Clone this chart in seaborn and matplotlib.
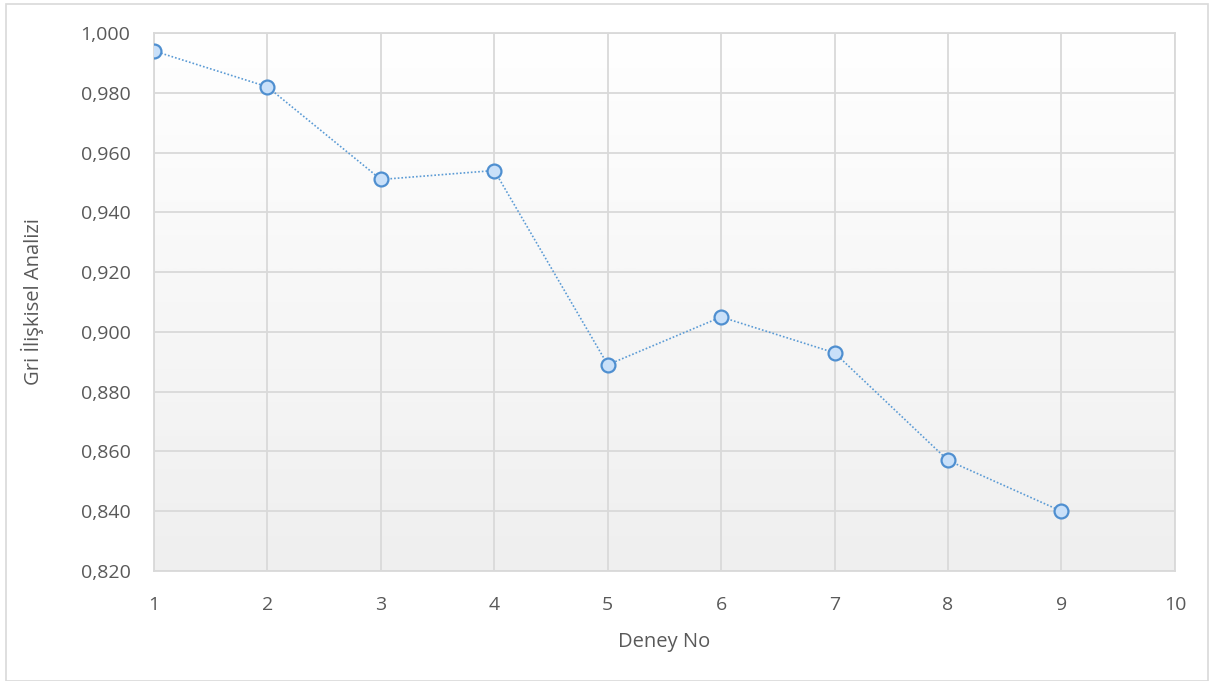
import numpy as np
import pandas as pd
import matplotlib
matplotlib.use("Agg")
import matplotlib.pyplot as plt
import seaborn as sns

# Data
deney_no = [1, 2, 3, 4, 5, 6, 7, 8, 9]
gri_iliskisel = [0.994, 0.982, 0.951, 0.954, 0.889, 0.905, 0.893, 0.857, 0.840]
x_ticks = [1, 2, 3, 4, 5, 6, 7, 8, 9, 10]
y_ticks = [0.820, 0.840, 0.860, 0.880, 0.900, 0.920, 0.940, 0.960, 0.980, 1.000]

sns.set_theme(style="white")
plt.rcParams["font.family"] = ["Open Sans", "DejaVu Sans"]

df = pd.DataFrame({"Deney No": deney_no, "Gri İlişkisel Analizi": gri_iliskisel})

fig = plt.figure(figsize=(12.1, 6.81), dpi=100)
ax = fig.add_axes([0.1273, 0.1615, 0.8437, 0.79])

# Outer chart border
border = plt.Rectangle((0.005, 0.0), 0.993, 0.994, transform=fig.transFigure,
                       fill=False, edgecolor="#d9d9d9", linewidth=1.2, zorder=0)
fig.patches.append(border)

# Plot area gradient background: white at the top, light grey at the bottom
grad = np.linspace(0, 1, 256).reshape(-1, 1)
cmap = matplotlib.colors.LinearSegmentedColormap.from_list("bg", ["#ffffff", "#efefef"])
ax.imshow(grad, extent=[1, 10, 0.820, 1.000], aspect="auto", cmap=cmap,
          origin="upper", zorder=0, interpolation="bicubic")

sns.lineplot(data=df, x="Deney No", y="Gri İlişkisel Analizi", ax=ax,
             color="#5b9bd5", linestyle=(0, (1, 1.2)), linewidth=1.2,
             marker="o", markersize=10, markerfacecolor="#c9e0f9",
             markeredgecolor="#4f8fd0", markeredgewidth=1.6, zorder=3)

ax.set_xlim(1, 10)
ax.set_ylim(0.820, 1.000)
ax.set_xticks(x_ticks)
ax.set_yticks(y_ticks)
ax.set_xticklabels([str(v) for v in x_ticks])
ax.set_yticklabels([f"{v:.3f}".replace(".", ",") for v in y_ticks])

ax.grid(True, color="#d9d9d9", linewidth=1.3, zorder=1)
ax.set_axisbelow(True)
for s in ax.spines.values():
    s.set_color("#d9d9d9")
    s.set_linewidth(1.3)

ax.tick_params(axis="both", length=0, labelsize=14, labelcolor="#595959")
ax.tick_params(axis="x", pad=18)
ax.tick_params(axis="y", pad=17)
ax.set_xlabel("Deney No", fontsize=14.5, color="#595959", labelpad=13)
ax.set_ylabel("Gri İlişkisel Analizi", fontsize=14.5, color="#595959", labelpad=26)

fig.savefig("out.png", dpi=100)
